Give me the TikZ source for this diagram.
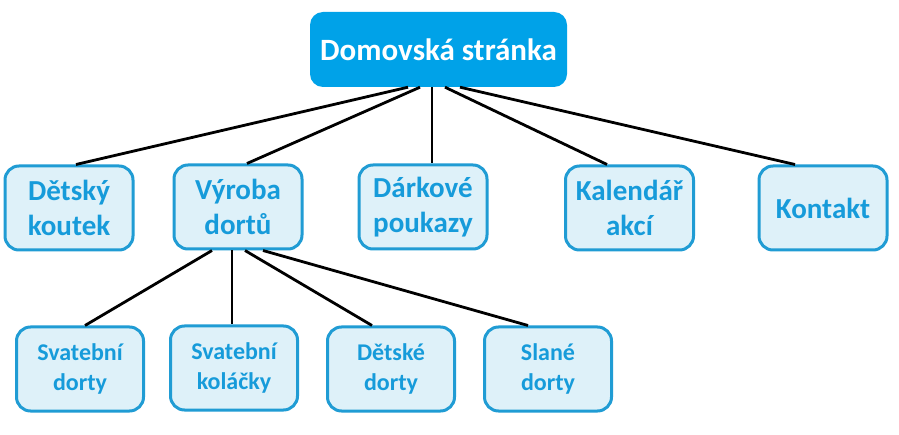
\documentclass[tikz,border=0pt]{standalone}
\usepackage{fontspec}
\setmainfont{Carlito}
\definecolor{topfill}{RGB}{0,162,232}
\definecolor{boxfill}{RGB}{222,241,249}
\definecolor{boxdraw}{RGB}{32,156,212}
\definecolor{boxtext}{RGB}{22,155,218}
\begin{document}
\begin{tikzpicture}[x=1pt,y=-1pt,
  topbox/.style={fill=topfill,rounded corners=13pt,minimum width=257pt,minimum height=75pt,inner sep=0pt,
    text=white,font=\fontsize{31}{36}\selectfont\bfseries,align=center},
  midbox/.style={fill=boxfill,draw=boxdraw,line width=3pt,rounded corners=14pt,minimum width=128pt,minimum height=84pt,inner sep=0pt,
    text=boxtext,font=\fontsize{29}{35}\selectfont\bfseries,align=center},
  lowbox/.style={fill=boxfill,draw=boxdraw,line width=3pt,rounded corners=14pt,minimum width=127pt,minimum height=84pt,inner sep=0pt,
    text=boxtext,font=\fontsize{24}{30}\selectfont\bfseries,align=center},
  conn/.style={line width=2.8pt,black}]
\useasboundingbox (0,0) rectangle (899,435);
\fill[white] (0,0) rectangle (899,435);
\node[topbox] (top) at (438.5,49.5) {Domovská stránka};
\node[midbox] (dk) at (69,208) {Dětský\\koutek};
\node[midbox] (vd) at (238,207) {Výroba\\dortů};
\node[midbox] (dp) at (423,207) {Dárkové\\poukazy};
\node[midbox] (ka) at (629.5,208) {Kalendář\\akcí};
\node[midbox] (ko) at (823,208) {Kontakt};
\node[lowbox] (sd) at (80,369) {Svatební\\dorty};
\node[lowbox] (sk) at (234,368) {Svatební\\koláčky};
\node[lowbox] (dd) at (391,369) {Dětské\\dorty};
\node[lowbox] (sl) at (548,369) {Slané\\dorty};
\draw[conn] ([xshift=-30.5pt]top.south) -- ([xshift=7pt]dk.north);
\draw[conn] ([xshift=-18.5pt]top.south) -- ([xshift=9pt]vd.north);
\draw[conn] ([xshift=-6.5pt]top.south) -- ([xshift=9pt]dp.north);
\draw[conn] ([xshift=6.5pt]top.south) -- ([xshift=-22.5pt]ka.north);
\draw[conn] ([xshift=21.5pt]top.south) -- ([xshift=-28pt]ko.north);
\draw[conn] ([xshift=-26pt]vd.south) -- ([xshift=5pt]sd.north);
\draw[conn] ([xshift=-6pt]vd.south) -- ([xshift=-2pt]sk.north);
\draw[conn] ([xshift=7pt]vd.south) -- ([xshift=-19pt]dd.north);
\draw[conn] ([xshift=25pt]vd.south) -- ([xshift=-20pt]sl.north);
\end{tikzpicture}
\end{document}
